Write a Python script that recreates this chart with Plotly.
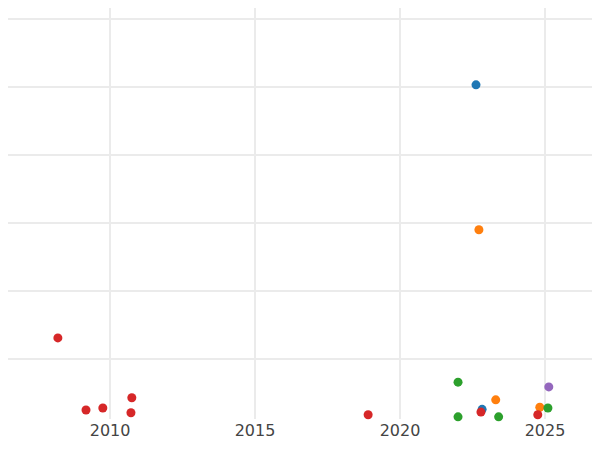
import plotly.graph_objects as go

# years and values, grouped by colour
blue_x = [2022.62, 2022.83]
blue_y = [5.03, 0.26]
orange_x = [2022.72, 2023.3, 2024.82]
orange_y = [2.90, 0.40, 0.29]
green_x = [2022.0, 2022.0, 2023.4, 2023.65, 2025.1]
green_y = [0.66, 0.15, 0.15, 0.09, 0.28]
red_x = [2008.2, 2010.75, 2009.17, 2009.75, 2010.72, 2018.9, 2022.24, 2022.79, 2024.75]
red_y = [1.31, 0.43, 0.25, 0.28, 0.21, 0.18, 0.09, 0.22, 0.18]
purple_x = [2025.13]
purple_y = [0.59]

series = [
    (blue_x, blue_y, '#1f77b4'),
    (orange_x, orange_y, '#ff7f0e'),
    (green_x, green_y, '#2ca02c'),
    (red_x, red_y, '#d62728'),
    (purple_x, purple_y, '#9467bd'),
]

fig = go.Figure()
for xs, ys, col in series:
    fig.add_trace(go.Scatter(x=xs, y=ys, mode='markers', cliponaxis=False,
                             marker=dict(color=col, size=9), showlegend=False))

fig.update_layout(
    width=584, height=434,
    margin=dict(l=0, r=0, t=0, b=23),
    plot_bgcolor='white', paper_bgcolor='white',
    font=dict(family='DejaVu Sans', size=16, color='#444'),
)
fig.update_xaxes(range=[2006.48, 2026.62], tickvals=[2010, 2015, 2020, 2025],
                 showgrid=True, gridcolor='#ebebeb', gridwidth=2, zeroline=False)
fig.update_yaxes(range=[0.118, 6.16], dtick=1, showticklabels=False,
                 showgrid=True, gridcolor='#ebebeb', gridwidth=2, zeroline=False)

fig.write_html("out.html")
